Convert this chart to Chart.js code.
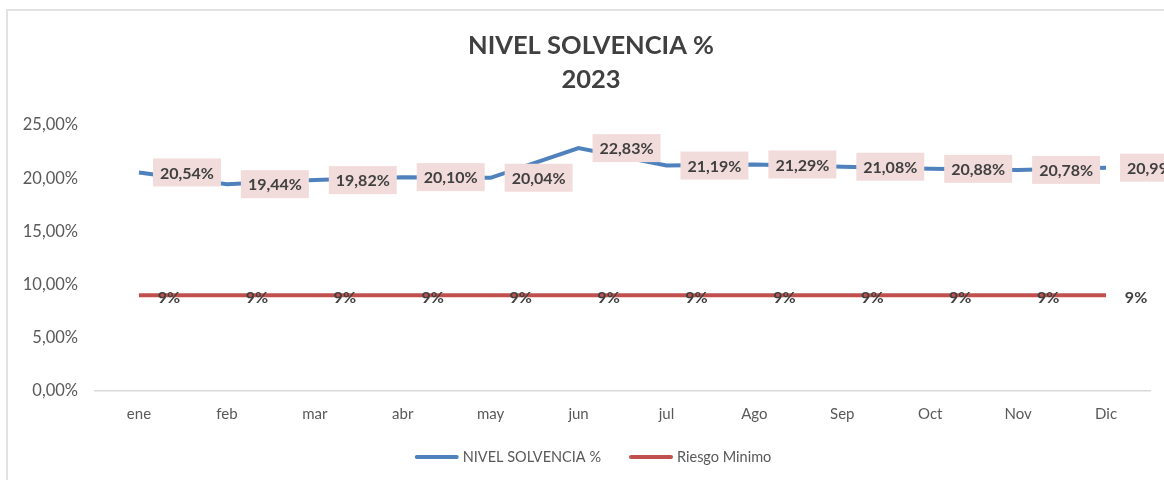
<!DOCTYPE html>
<html>
<head>
<meta charset="utf-8">
<script src="https://cdn.jsdelivr.net/npm/chart.js@4.4.1/dist/chart.umd.min.js"></script>
<style>
  body { margin: 0; background: #fff; }
  #wrap { position: relative; width: 1164px; height: 480px; }
  #frame { position: absolute; left: 6px; top: 9px; right: 0; bottom: 0;
           border-left: 2px solid #e2e2e2; border-top: 2px solid #e2e2e2; }
  canvas { position: absolute; left: 0; top: 0; }
</style>
</head>
<body>
<div id="wrap">
  <div id="frame"></div>
  <canvas id="solvChart" width="1164" height="480"></canvas>
</div>
<script>
const months = ['ene', 'feb', 'mar', 'abr', 'may', 'jun', 'jul', 'Ago', 'Sep', 'Oct', 'Nov', 'Dic'];
const solvencia = [20.54, 19.44, 19.82, 20.10, 20.04, 22.83, 21.19, 21.29, 21.08, 20.88, 20.78, 20.99];
const riesgoMinimo = [9, 9, 9, 9, 9, 9, 9, 9, 9, 9, 9, 9];
const titleLines = ['NIVEL SOLVENCIA %', '2023'];

const FONT = 'Lato, "Open Sans", sans-serif';

function pct(v, dec) {
  return v.toFixed(dec).replace('.', ',') + '%';
}

// title + legend drawn by hand so they can sit off-centre like the original
const headerLegend = {
  id: 'headerLegend',
  afterDraw(chart) {
    const c = chart.ctx;
    c.save();
    c.fillStyle = '#404040';
    c.font = 'bold 25.5px ' + FONT;
    c.textAlign = 'center';
    c.textBaseline = 'middle';
    c.fillText(titleLines[0], 591, 46);
    c.fillText(titleLines[1], 591, 80);

    c.font = '14.5px ' + FONT;
    c.textAlign = 'left';
    const items = chart.data.datasets.map(ds => ({ text: ds.label, color: ds.borderColor }));
    const sample = 44, gap = 4, itemGap = 28;
    let total = 0;
    items.forEach((it, i) => {
      it.w = c.measureText(it.text).width;
      total += sample + gap + it.w + (i ? itemGap : 0);
    });
    let x = 593 - total / 2;
    const y = 457;
    items.forEach(it => {
      c.strokeStyle = it.color;
      c.lineWidth = 4;
      c.lineCap = 'round';
      c.beginPath();
      c.moveTo(x + 2, y);
      c.lineTo(x + sample - 2, y);
      c.stroke();
      c.fillStyle = '#595959';
      c.fillText(it.text, x + sample + gap, y);
      x += sample + gap + it.w + itemGap;
    });
    c.restore();
  }
};

const pointLabels = {
  id: 'pointLabels',
  afterDatasetsDraw(chart) {
    const c = chart.ctx;
    c.save();
    c.textBaseline = 'middle';
    c.textAlign = 'center';
    chart.data.datasets.forEach((ds, di) => {
      const meta = chart.getDatasetMeta(di);
      meta.data.forEach((pt, i) => {
        const v = ds.data[i];
        if (di === 0) {
          const txt = pct(v, 2);
          c.font = 'bold 16px ' + FONT;
          const w = c.measureText(txt).width + 14;
          const h = 28;
          const bx = pt.x + 14;
          c.fillStyle = '#f2dcdb';
          c.fillRect(bx, pt.y - h / 2, w, h);
          c.fillStyle = '#404040';
          c.fillText(txt, bx + w / 2, pt.y + 1);
        } else {
          c.font = 'bold 16px ' + FONT;
          c.fillStyle = '#404040';
          c.fillText(pct(v, 0), pt.x + 30, pt.y + 3);
        }
      });
    });
    c.restore();
  }
};

const ctx = document.getElementById('solvChart').getContext('2d');
new Chart(ctx, {
  type: 'line',
  data: {
    labels: months,
    datasets: [
      {
        label: 'NIVEL SOLVENCIA %',
        data: solvencia,
        borderColor: '#4f81bd',
        borderWidth: 4,
        pointRadius: 0,
        tension: 0,
        clip: false
      },
      {
        label: 'Riesgo Minimo',
        data: riesgoMinimo,
        borderColor: '#c0504d',
        borderWidth: 4,
        pointRadius: 0,
        tension: 0,
        clip: false
      }
    ]
  },
  options: {
    responsive: false,
    animation: false,
    layout: { padding: { left: 10, right: 14, top: 125, bottom: 43 } },
    plugins: {
      legend: { display: false },
      title: { display: false },
      tooltip: { enabled: false }
    },
    scales: {
      x: {
        offset: true,
        grid: { display: false, drawTicks: false },
        border: { display: true, color: '#d9d9d9', width: 1.5 },
        ticks: { color: '#595959', font: { family: FONT, size: 15 }, padding: 14 }
      },
      y: {
        min: 0,
        max: 25,
        afterFit(scale) { scale.width = 85; },
        grid: { display: false, drawTicks: false },
        border: { display: false },
        ticks: {
          stepSize: 5,
          color: '#595959',
          font: { family: FONT, size: 16.5 },
          padding: 17,
          callback: v => pct(v, 2)
        }
      }
    }
  },
  plugins: [pointLabels, headerLegend]
});
</script>
</body>
</html>
